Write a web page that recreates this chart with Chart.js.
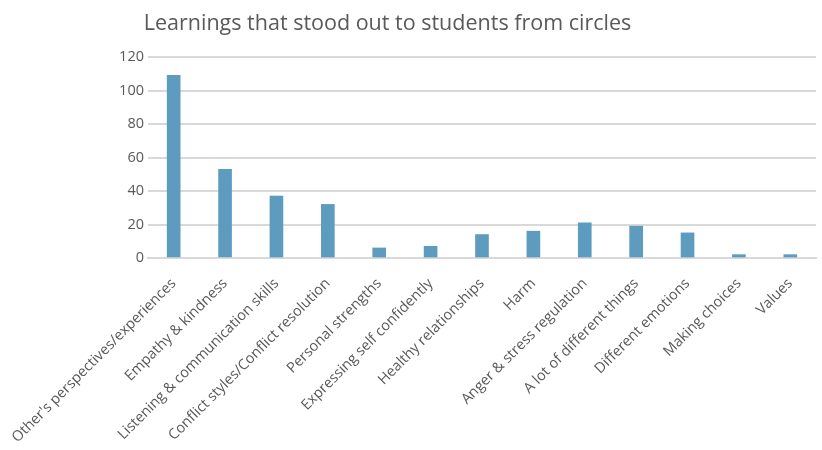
<!DOCTYPE html>
<html>
<head>
<meta charset="utf-8">
<script src="https://cdn.jsdelivr.net/npm/chart.js@4/dist/chart.umd.min.js"></script>
<style>
  html, body { margin: 0; padding: 0; background: #fff; }
  #wrap { position: relative; width: 822px; height: 450px; }
  #title {
    position: absolute; left: 0; top: 7px; width: 775px;
    text-align: center; font-family: "Open Sans", sans-serif;
    font-size: 21.5px; color: #595959;
  }
  canvas { position: absolute; left: 0; top: 0; }
</style>
</head>
<body>
<div id="wrap">
  <canvas id="learnings-chart" width="822" height="450"></canvas>
  <div id="title">Learnings that stood out to students from circles</div>
</div>
<script>
var categories = [
    "Other's perspectives/experiences",
    'Empathy & kindness',
    'Listening & communication skills',
    'Conflict styles/Conflict resolution',
    'Personal strengths',
    'Expressing self confidently',
    'Healthy relationships',
    'Harm',
    'Anger & stress regulation',
    'A lot of different things',
    'Different emotions',
    'Making choices',
    'Values'
];
var counts = [109, 53, 37, 32, 6, 7, 14, 16, 21, 19, 15, 2, 2];
var yTicks = [0, 20, 40, 60, 80, 100, 120];

document.addEventListener("DOMContentLoaded", function() {
    var ctx = document.getElementById('learnings-chart').getContext('2d');
    var textColor = '#595959';
    var learningsChart = new Chart(ctx, {
        type: 'bar',
        data: {
            labels: categories,
            datasets: [{
                label: 'Students',
                data: counts,
                backgroundColor: '#5e9cbf',
                barThickness: 13
            }]
        },
        options: {
            responsive: false,
            animation: false,
            layout: { padding: { top: 57, right: 6, left: 0, bottom: 0 } },
            plugins: {
                legend: { display: false },
                tooltip: { enabled: false }
            },
            scales: {
                x: {
                    grid: { display: false },
                    border: { color: '#d9d9d9', width: 2 },
                    ticks: {
                        color: textColor,
                        font: { family: 'Open Sans', size: 14.5 },
                        minRotation: 45,
                        maxRotation: 45,
                        padding: 9
                    },
                    afterFit: function(scale) { scale.height = 192; }
                },
                y: {
                    min: 0,
                    max: 120,
                    afterBuildTicks: function(scale) {
                        scale.ticks = yTicks.map(function(v) { return { value: v }; });
                    },
                    grid: { color: '#d9d9d9', lineWidth: 2, drawTicks: false },
                    border: { display: false },
                    ticks: {
                        color: textColor,
                        font: { family: 'Open Sans', size: 14.5 },
                        padding: 4
                    },
                    afterFit: function(scale) { scale.width = 147; }
                }
            }
        }
    });
});
</script>
</body>
</html>
